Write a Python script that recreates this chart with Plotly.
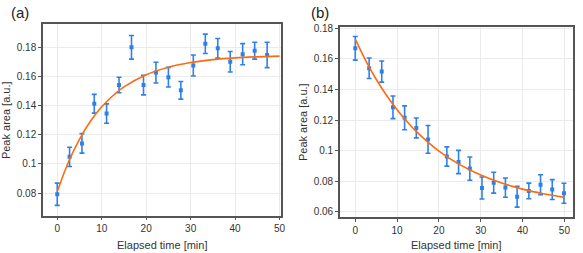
import plotly.graph_objects as go

# ---- data, panel (a) ----
t_a = [0, 2.78, 5.56, 8.33, 11.1, 13.9, 16.7, 19.4, 22.2, 25.0, 27.8, 30.6, 33.3, 36.1, 38.9, 41.7, 44.4, 47.2]
y_a = [0.0793, 0.1049, 0.1141, 0.1412, 0.1345, 0.1540, 0.1798, 0.1540, 0.1625, 0.1594,
       0.1504, 0.1674, 0.1822, 0.1791, 0.1699, 0.1751, 0.1775, 0.1746]
e_a = [0.0076, 0.0066, 0.0067, 0.0064, 0.0066, 0.0053, 0.0081, 0.0067, 0.0071, 0.0067,
       0.0060, 0.0072, 0.0066, 0.0067, 0.0070, 0.0072, 0.0058, 0.0087]
fit_t_a = [0, 2.5, 5, 7.5, 10, 12.5, 15, 20, 25, 30, 35, 40, 45, 50]
fit_y_a = [0.0810, 0.1012, 0.1169, 0.1294, 0.1391, 0.1467, 0.1527, 0.1611, 0.1662,
           0.1694, 0.1714, 0.1726, 0.1733, 0.1738]

# ---- data, panel (b) ----
t_b = [0, 3.32, 6.33, 9.02, 11.8, 14.6, 17.4, 21.9, 24.7, 27.4, 30.3, 33.1, 35.9, 38.7, 41.5, 44.3, 47.1, 49.9]
y_b = [0.1669, 0.1539, 0.1517, 0.1284, 0.1215, 0.1149, 0.1074, 0.0962, 0.0926, 0.0883,
       0.0756, 0.0791, 0.0759, 0.0699, 0.0737, 0.0778, 0.0746, 0.0722]
e_b = [0.0077, 0.0067, 0.0069, 0.0074, 0.0078, 0.0065, 0.0091, 0.0063, 0.0076, 0.0076,
       0.0072, 0.0068, 0.0063, 0.0068, 0.0051, 0.0065, 0.0065, 0.0065]
fit_t_b = [0, 2.5, 5, 7.5, 10, 12.5, 15, 20, 25, 30, 35, 40, 45, 50]
fit_y_b = [0.1729, 0.1589, 0.1467, 0.1361, 0.1268, 0.1186, 0.1115, 0.0998, 0.0909,
           0.0841, 0.0789, 0.0749, 0.0719, 0.0695]

x_ticks = [0, 10, 20, 30, 40, 50]
y_ticks_a = [0.08, 0.10, 0.12, 0.14, 0.16, 0.18]
y_ticks_b = [0.06, 0.08, 0.10, 0.12, 0.14, 0.16, 0.18]

BLUE = "#2f80e8"
ORANGE = "#ff6a10"
FONT = "Liberation Sans, Arial, sans-serif"

fig = go.Figure()

for (tx, ty, te, fx, fy, xa, ya) in [
    (t_a, y_a, e_a, fit_t_a, fit_y_a, "x", "y"),
    (t_b, y_b, e_b, fit_t_b, fit_y_b, "x2", "y2"),
]:
    fig.add_trace(go.Scatter(
        x=tx, y=ty, mode="markers", xaxis=xa, yaxis=ya,
        marker=dict(color=BLUE, size=4, symbol="square"),
        error_y=dict(type="data", array=te, visible=True, color=BLUE, thickness=1.6, width=2.5),
        showlegend=False))
    fig.add_trace(go.Scatter(
        x=fx, y=fy, mode="lines", xaxis=xa, yaxis=ya,
        line=dict(color=ORANGE, width=1.6, shape="spline"), showlegend=False))

W, H = 583, 253
axis_common = dict(
    showline=True, mirror=True, linecolor="#555555", linewidth=1.5,
    showgrid=True, gridcolor="#ebebeb", gridwidth=1, zeroline=False,
    ticks="outside", ticklen=3, tickcolor="#555555", tickwidth=1,
    tickfont=dict(family=FONT, size=10, color="#333333"),
)

fig.update_layout(
    width=W, height=H,
    margin=dict(l=0, r=0, t=0, b=0),
    paper_bgcolor="white", plot_bgcolor="white",
    font=dict(family=FONT),
    xaxis=dict(domain=[43.3 / W, 283.3 / W], range=[-3.2, 50.4], tickvals=x_ticks, anchor="y", **axis_common),
    yaxis=dict(domain=[(H - 215) / H, (H - 20.7) / H], range=[0.0647, 0.1955], tickvals=y_ticks_a,
               anchor="x", **axis_common),
    xaxis2=dict(domain=[342.3 / W, 576.7 / W], range=[-3.66, 52.0], tickvals=x_ticks, anchor="y2", **axis_common),
    yaxis2=dict(domain=[(H - 216.7) / H, (H - 23.3) / H], range=[0.0565, 0.1809], tickvals=y_ticks_b,
                anchor="x2", **axis_common),
)

ann = []
title_font = dict(family=FONT, size=11, color="#333333")
label_font = dict(family=FONT, size=15, color="#222222")
common = dict(xref="paper", yref="paper", showarrow=False, xanchor="center", yanchor="middle")
ann.append(dict(text="Elapsed time [min]", x=(43.3 + 283.3) / 2 / W, y=(H - 245) / H, font=title_font, **common))
ann.append(dict(text="Elapsed time [min]", x=(342.3 + 576.7) / 2 / W, y=(H - 245) / H, font=title_font, **common))
ann.append(dict(text="Peak area [a.u.]", x=6 / W, y=(H - 118) / H, textangle=-90, font=title_font, **common))
ann.append(dict(text="Peak area [a.u.]", x=305 / W, y=(H - 120) / H, textangle=-90, font=title_font, **common))
ann.append(dict(text="(a)", x=20 / W, y=(H - 9) / H, font=label_font, **common))
ann.append(dict(text="(b)", x=322 / W, y=(H - 9) / H, font=label_font, **common))
fig.update_layout(annotations=ann)

fig.write_html("out.html", config={"displayModeBar": False},
               post_script="document.body.style.margin='0px';")
